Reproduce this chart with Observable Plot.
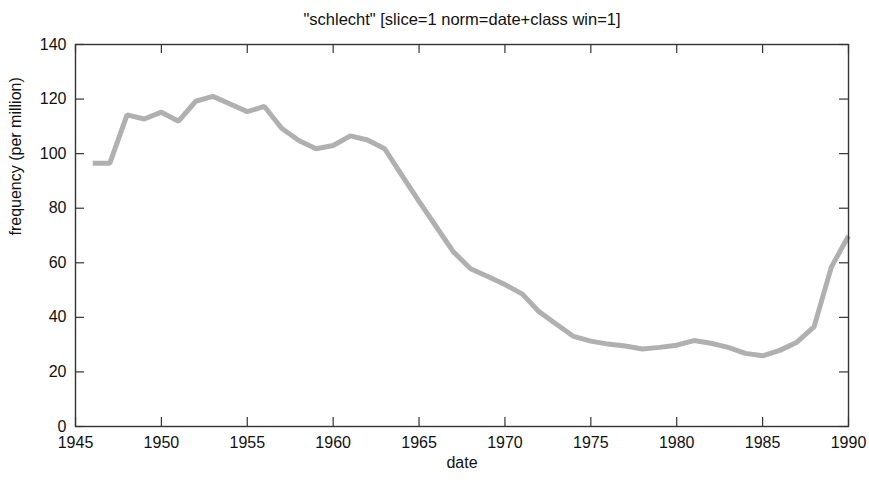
<!DOCTYPE html>
<html>
<head>
<meta charset="utf-8">
<script src="https://cdn.jsdelivr.net/npm/d3@7"></script>
<script src="https://cdn.jsdelivr.net/npm/@observablehq/plot@0.6"></script>
<style>
  html, body { margin: 0; padding: 0; background: #fff; }
  svg { display: block; }
</style>
</head>
<body>
<div id="chart"></div>
<script>
const titleText = '"schlecht" [slice=1 norm=date+class win=1]';
const xLabel = "date";
const yLabel = "frequency (per million)";

const years = [1946,1947,1948,1949,1950,1951,1952,1953,1954,1955,1956,1957,1958,1959,1960,
  1961,1962,1963,1964,1965,1966,1967,1968,1969,1970,1971,1972,1973,1974,1975,
  1976,1977,1978,1979,1980,1981,1982,1983,1984,1985,1986,1987,1988,1989,1990];
const freq = [96.5,96.5,114.2,112.7,115.2,111.9,119.2,121.0,118.2,115.4,117.3,109.3,104.8,101.8,103.0,
  106.5,105.0,101.8,92.0,82.5,73.2,64.0,57.8,55.0,52.0,48.6,42.0,37.5,33.0,31.3,
  30.2,29.5,28.4,29.0,29.8,31.5,30.5,29.0,26.8,25.9,27.9,30.9,36.6,58.4,69.8];

const xTicks = [1945,1950,1955,1960,1965,1970,1975,1980,1985,1990];
const yTicks = [0,20,40,60,80,100,120,140];

const data = years.map((y, i) => ({date: y, value: freq[i]}));

const W = 869, H = 482, mL = 75, mR = 21, mT = 44, mB = 56;
const iW = W - mL - mR, iH = H - mT - mB, tk = 9;
const font = "'Liberation Sans', Arial, sans-serif";

const chart = Plot.plot({
  width: W, height: H,
  marginLeft: mL, marginRight: mR, marginTop: mT, marginBottom: mB,
  style: {fontFamily: font, fontSize: "16px", color: "#111", background: "#fff"},
  x: {domain: [1945, 1990], label: null},
  y: {domain: [0, 140], label: null},
  marks: [
    Plot.axisX(xTicks, {tickSize: 0, tickPadding: 10, tickFormat: d => String(d), fontSize: 16, label: null}),
    Plot.axisY(yTicks, {tickSize: 0, tickPadding: 9, tickFormat: d => String(d), fontSize: 16, label: null}),
    Plot.line(data, {x: "date", y: "value", stroke: "#b0b0b0", strokeWidth: 5, strokeLinejoin: "miter", strokeLinecap: "butt"}),
    Plot.ruleX(xTicks, {x: d => d, insetTop: iH - tk, stroke: "#333", strokeWidth: 1.2}),
    Plot.ruleX(xTicks, {x: d => d, insetBottom: iH - tk, stroke: "#333", strokeWidth: 1.2}),
    Plot.ruleY(yTicks, {y: d => d, insetRight: iW - tk, stroke: "#333", strokeWidth: 1.2}),
    Plot.ruleY(yTicks, {y: d => d, insetLeft: iW - tk, stroke: "#333", strokeWidth: 1.2}),
    Plot.frame({stroke: "#333", strokeWidth: 1.4}),
    Plot.text([titleText], {frameAnchor: "top", dy: -31, fontSize: 16.5, fill: "#111"}),
    Plot.text([xLabel], {frameAnchor: "bottom", dy: 41, fontSize: 16, fill: "#111"}),
    Plot.text([yLabel], {frameAnchor: "left", dx: -60, dy: 0, rotate: -90, fontSize: 16, fill: "#111"})
  ]
});
document.getElementById("chart").appendChild(chart);
</script>
</body>
</html>
